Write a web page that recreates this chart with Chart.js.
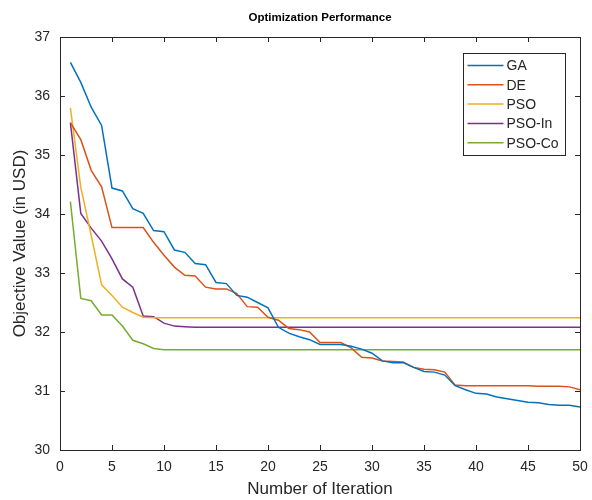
<!DOCTYPE html>
<html>
<head>
<meta charset="utf-8">
<script src="https://cdn.jsdelivr.net/npm/chart.js@4"></script>
<style>
  html, body { margin: 0; padding: 0; background: #fff; }
  canvas { display: block; }
</style>
</head>
<body>
<canvas id="perf-chart" width="592" height="500"></canvas>
<script>
// iteration numbers (x)
const iterations = [1, 2, 3, 4, 5, 6, 7, 8, 9, 10, 11, 12, 13, 14, 15, 16, 17, 18, 19, 20,
  21, 22, 23, 24, 25, 26, 27, 28, 29, 30, 31, 32, 33, 34, 35, 36, 37, 38, 39, 40,
  41, 42, 43, 44, 45, 46, 47, 48, 49, 50];

const seriesNames = ['GA', 'DE', 'PSO', 'PSO-In', 'PSO-Co'];

const gaValues = [36.57, 36.23, 35.81, 35.50, 34.44, 34.39, 34.09, 34.01, 33.72, 33.70,
  33.39, 33.35, 33.16, 33.14, 32.84, 32.82, 32.62, 32.59, 32.50, 32.41,
  32.08, 31.98, 31.92, 31.87, 31.79, 31.79, 31.79, 31.76, 31.71, 31.64,
  31.51, 31.48, 31.48, 31.40, 31.33, 31.32, 31.27, 31.09, 31.02, 30.96,
  30.95, 30.90, 30.87, 30.84, 30.81, 30.80, 30.77, 30.76, 30.76, 30.73];

const deValues = [35.55, 35.26, 34.74, 34.46, 33.77, 33.77, 33.77, 33.77, 33.52, 33.30,
  33.10, 32.96, 32.95, 32.76, 32.73, 32.73, 32.65, 32.43, 32.42, 32.25,
  32.20, 32.06, 32.04, 32.00, 31.82, 31.82, 31.82, 31.73, 31.57, 31.56,
  31.51, 31.50, 31.49, 31.40, 31.37, 31.36, 31.32, 31.10, 31.09, 31.09,
  31.09, 31.09, 31.09, 31.09, 31.09, 31.08, 31.08, 31.08, 31.07, 31.02];

const psoValues = [35.80, 34.45, 33.64, 32.80, 32.62, 32.42, 32.33, 32.25, 32.24, 32.24,
  32.24, 32.24, 32.24, 32.24, 32.24, 32.24, 32.24, 32.24, 32.24, 32.24,
  32.24, 32.24, 32.24, 32.24, 32.24, 32.24, 32.24, 32.24, 32.24, 32.24,
  32.24, 32.24, 32.24, 32.24, 32.24, 32.24, 32.24, 32.24, 32.24, 32.24,
  32.24, 32.24, 32.24, 32.24, 32.24, 32.24, 32.24, 32.24, 32.24, 32.24];

const psoInValues = [35.55, 34.01, 33.76, 33.54, 33.24, 32.90, 32.76, 32.27, 32.26, 32.15,
  32.10, 32.09, 32.08, 32.08, 32.08, 32.08, 32.08, 32.08, 32.08, 32.08,
  32.08, 32.08, 32.08, 32.08, 32.08, 32.08, 32.08, 32.08, 32.08, 32.08,
  32.08, 32.08, 32.08, 32.08, 32.08, 32.08, 32.08, 32.08, 32.08, 32.08,
  32.08, 32.08, 32.08, 32.08, 32.08, 32.08, 32.08, 32.08, 32.08, 32.08];

const psoCoValues = [34.21, 32.57, 32.53, 32.29, 32.29, 32.10, 31.86, 31.80, 31.72, 31.70,
  31.70, 31.70, 31.70, 31.70, 31.70, 31.70, 31.70, 31.70, 31.70, 31.70,
  31.70, 31.70, 31.70, 31.70, 31.70, 31.70, 31.70, 31.70, 31.70, 31.70,
  31.70, 31.70, 31.70, 31.70, 31.70, 31.70, 31.70, 31.70, 31.70, 31.70,
  31.70, 31.70, 31.70, 31.70, 31.70, 31.70, 31.70, 31.70, 31.70, 31.70];

const xTicks = [0, 5, 10, 15, 20, 25, 30, 35, 40, 45, 50];
const yTicks = [30, 31, 32, 33, 34, 35, 36, 37];

const allValues = [gaValues, deValues, psoValues, psoInValues, psoCoValues];
const lineColors = ['#0072BD', '#D95319', '#EDB120', '#7E2F8E', '#77AC30'];
const FONT = "'Liberation Sans', Arial, Helvetica, sans-serif";
const AXIS_COLOR = '#262626';

// matlab-ish box with inward ticks + legend inside the axes
const boxPlugin = {
  id: 'matlabBox',
  afterDraw(chart) {
    const { ctx, chartArea: a, scales } = chart;
    const tl = 5;
    ctx.save();
    ctx.strokeStyle = AXIS_COLOR;
    ctx.lineWidth = 1;
    ctx.beginPath();
    xTicks.forEach(v => {
      const px = Math.round(scales.x.getPixelForValue(v)) + 0.5;
      ctx.moveTo(px, a.bottom); ctx.lineTo(px, a.bottom - tl);
      ctx.moveTo(px, a.top); ctx.lineTo(px, a.top + tl);
    });
    yTicks.forEach(v => {
      const py = Math.round(scales.y.getPixelForValue(v)) + 0.5;
      ctx.moveTo(a.left, py); ctx.lineTo(a.left + tl, py);
      ctx.moveTo(a.right, py); ctx.lineTo(a.right - tl, py);
    });
    ctx.stroke();
    ctx.strokeRect(Math.round(a.left) + 0.5, Math.round(a.top) + 0.5,
      Math.round(a.right - a.left), Math.round(a.bottom - a.top));

    // legend
    const lw = 102, rowH = 19.3;
    const lx = Math.round(a.right - 15 - lw) + 0.5;
    const ly = Math.round(a.top + 16) + 0.5;
    const lh = Math.round(rowH * seriesNames.length + 5);
    ctx.fillStyle = '#fff';
    ctx.fillRect(lx, ly, lw, lh);
    ctx.strokeStyle = AXIS_COLOR;
    ctx.strokeRect(lx, ly, lw, lh);
    ctx.font = '14px ' + FONT;
    ctx.textBaseline = 'middle';
    ctx.textAlign = 'left';
    chart.data.datasets.forEach((ds, i) => {
      const cy = ly + 12 + i * rowH;
      ctx.strokeStyle = ds.borderColor;
      ctx.lineWidth = 1.5;
      ctx.beginPath();
      ctx.moveTo(lx + 4, cy); ctx.lineTo(lx + 40, cy);
      ctx.stroke();
      ctx.fillStyle = AXIS_COLOR;
      ctx.fillText(ds.label, lx + 43, cy + 1);
    });
    ctx.restore();
  }
};

const ctx = document.getElementById('perf-chart').getContext('2d');
new Chart(ctx, {
  type: 'line',
  data: {
    datasets: seriesNames.map((name, i) => ({
      label: name,
      data: iterations.map((it, k) => ({ x: it, y: allValues[i][k] })),
      borderColor: lineColors[i],
      backgroundColor: lineColors[i],
      borderWidth: 1.5,
      pointRadius: 0,
      tension: 0,
      fill: false,
    })),
  },
  options: {
    responsive: false,
    animation: false,
    devicePixelRatio: 1,
    layout: { padding: { left: 0, right: 12, top: 0, bottom: 0 } },
    plugins: {
      legend: { display: false },
      tooltip: { enabled: false },
      title: {
        display: true,
        text: 'Optimization Performance',
        fullSize: false,
        color: '#000',
        font: { family: FONT, size: 11.5, weight: 'bold' },
        padding: { top: 11, bottom: 12.2 },
      },
    },
    scales: {
      x: {
        type: 'linear',
        min: 0,
        max: 50,
        afterBuildTicks: s => { s.ticks = xTicks.map(v => ({ value: v })); },
        afterFit: s => { s.height = 50; s.paddingLeft = 0; s.paddingRight = 8; },
        grid: { display: false, drawTicks: false },
        border: { display: false },
        ticks: { color: AXIS_COLOR, font: { family: FONT, size: 14 }, padding: 9, maxRotation: 0 },
        title: {
          display: true,
          text: 'Number of Iteration',
          color: AXIS_COLOR,
          font: { family: FONT, size: 17 },
          padding: { top: 0, bottom: 0 },
        },
      },
      y: {
        min: 30,
        max: 37,
        afterBuildTicks: s => { s.ticks = yTicks.map(v => ({ value: v })); },
        afterFit: s => { s.width = 60; },
        grid: { display: false, drawTicks: false },
        border: { display: false },
        ticks: { color: AXIS_COLOR, font: { family: FONT, size: 14 }, padding: 10 },
        title: {
          display: true,
          text: 'Objective Value (in USD)',
          color: AXIS_COLOR,
          font: { family: FONT, size: 17 },
          padding: { top: 10, bottom: 0 },
        },
      },
    },
  },
  plugins: [boxPlugin],
});
</script>
</body>
</html>
